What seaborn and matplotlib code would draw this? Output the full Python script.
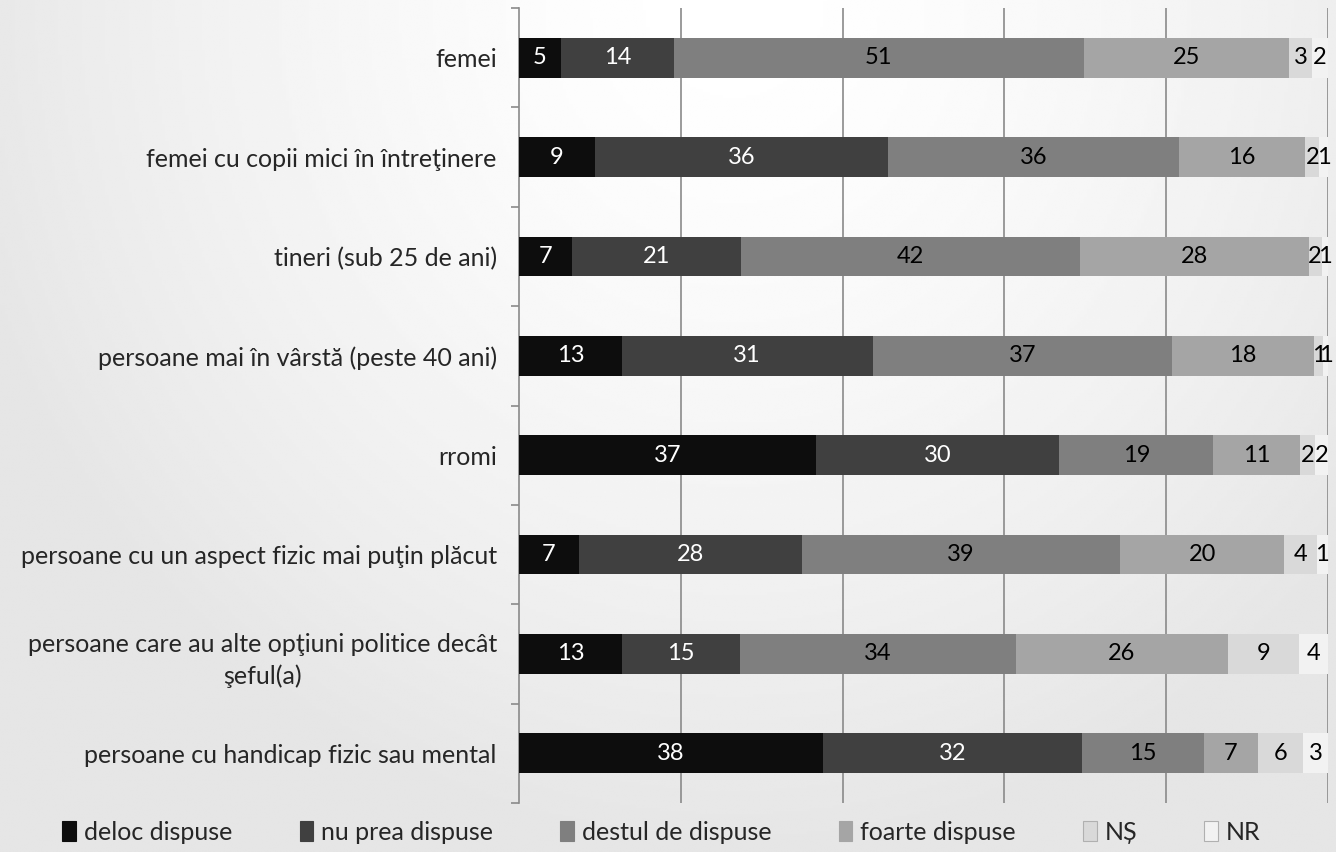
import matplotlib
matplotlib.use("Agg")

import numpy as np
import pandas as pd
import matplotlib.pyplot as plt
import seaborn as sns
from matplotlib import font_manager
from matplotlib.patches import Patch
from matplotlib.ticker import FixedLocator


categories = [
    "femei",
    "femei cu copii mici în întreţinere",
    "tineri (sub 25 de ani)",
    "persoane mai în vârstă (peste 40 ani)",
    "rromi",
    "persoane cu un aspect fizic mai puţin plăcut",
    "persoane care au alte opţiuni politice decât\nşeful(a)",
    "persoane cu handicap fizic sau mental",
]
series_names = ["deloc dispuse", "nu prea dispuse", "destul de dispuse",
                "foarte dispuse", "NȘ", "NR"]

deloc = [5.2, 9.4, 6.6, 12.7, 36.7, 7.4, 12.7, 37.6]
nu_prea = [13.9, 36.2, 20.9, 31.0, 30.1, 27.6, 14.6, 32.0]
destul = [50.7, 36.0, 41.8, 37.0, 19.0, 39.3, 34.1, 15.1]
foarte = [25.4, 15.6, 28.3, 17.6, 10.8, 20.3, 26.2, 6.6]
ns = [2.8, 1.7, 1.6, 1.1, 1.8, 4.0, 8.8, 5.6]
nr = [2.0, 1.1, 0.8, 0.6, 1.6, 1.4, 3.6, 3.1]

colors = ["#0d0d0d", "#404040", "#7f7f7f", "#a5a5a5", "#d9d9d9", "#f2f2f2"]
text_colors = ["white", "white", "black", "black", "black", "black"]


def pick_font() -> str:
    names = {f.name for f in font_manager.fontManager.ttflist}
    for name in ["Liberation Sans Narrow", "Lato", "Noto Sans"]:
        if name in names:
            return name
    return "DejaVu Sans"


sns.set_theme(style="white")
font = pick_font()
plt.rcParams["font.family"] = [font, "DejaVu Sans"]

df = pd.DataFrame(
    {"category": categories, "deloc": deloc, "nu_prea": nu_prea, "destul": destul,
     "foarte": foarte, "ns": ns, "nr": nr}
)
cols = ["deloc", "nu_prea", "destul", "foarte", "ns", "nr"]
cum = df[cols].cumsum(axis=1)

fig = plt.figure(figsize=(13.36, 8.52), dpi=100)

# soft grey gradient behind everything
bg = fig.add_axes([0, 0, 1, 1], zorder=-10)
gx, gy = np.meshgrid(np.linspace(0, 1, 400), np.linspace(0, 1, 300))
r = np.sqrt(((gx - 0.55) / 0.6) ** 2 + (gy / 1.0) ** 2)
shade = 1 - 0.10 * np.clip(r, 0, 1) ** 1.5
bg.imshow(shade, cmap="gray", vmin=0, vmax=1, aspect="auto",
          extent=(0, 1, 1, 0), interpolation="bilinear")
bg.axis("off")

ax = fig.add_axes([519 / 1336, 1 - 803 / 852, (1328 - 519) / 1336, (803 - 8) / 852])
ax.set_facecolor("none")

# stacked bars: draw cumulative totals from the last series back to the first
for k in range(len(cols) - 1, -1, -1):
    sns.barplot(x=cum[cols[k]], y=df["category"], color=colors[k], width=0.4,
                saturation=1, orient="h", ax=ax, zorder=3, linewidth=0)

for k, col in enumerate(cols):
    centers = cum[col] - df[col] / 2
    for i, (c, v) in enumerate(zip(centers, df[col])):
        ax.text(c, i, f"{v:.0f}", ha="center", va="center", fontsize=17,
                color=text_colors[k], zorder=5)

ax.set_xlim(0, 100)
ax.set_ylim(len(categories) - 0.5, -0.5)
ax.set_xlabel("")
ax.set_ylabel("")

ax.xaxis.set_major_locator(FixedLocator([20, 40, 60, 80, 100]))
ax.set_xticklabels([])
ax.tick_params(axis="x", length=0)
ax.grid(axis="x", color="#8a8a8a", linewidth=1.2)
ax.set_axisbelow(True)

ax.tick_params(axis="y", which="major", length=0, pad=16, labelsize=18)
ax.yaxis.set_minor_locator(FixedLocator(np.arange(-0.5, len(categories), 1.0)))
ax.tick_params(axis="y", which="minor", length=6, width=1.2, color="#8a8a8a",
               direction="out", left=True)
for lab in ax.get_yticklabels():
    lab.set_multialignment("center")
    lab.set_linespacing(1.45)

for side in ["top", "right", "bottom"]:
    ax.spines[side].set_visible(False)
ax.spines["left"].set_color("#8a8a8a")
ax.spines["left"].set_linewidth(1.2)

handles = [Patch(facecolor=c, edgecolor="#b0b0b0" if i >= 4 else c, linewidth=0.8)
           for i, c in enumerate(colors)]
fig.legend(handles, series_names, loc="center", bbox_to_anchor=(0.495, 20 / 852),
           ncol=6, frameon=False, fontsize=18, handlelength=0.55, handleheight=0.9,
           handletextpad=0.3, columnspacing=2.7)

fig.savefig("out.png", dpi=100)
